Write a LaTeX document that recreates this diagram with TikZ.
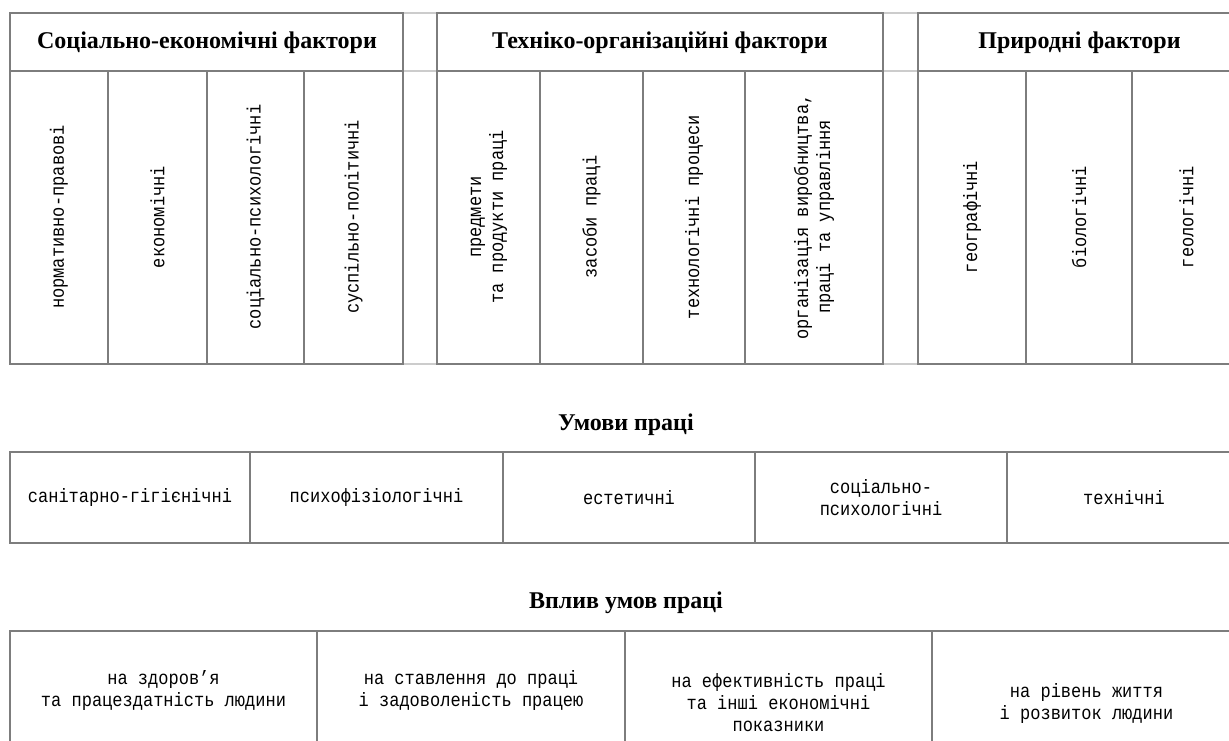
\documentclass[tikz,border=0pt]{standalone}
\usepackage{fontspec}
\setmainfont{Liberation Serif}
\newfontfamily\cellfont[FakeStretch=0.88]{Liberation Mono}
\usepackage{tikz}
\definecolor{framegray}{RGB}{125,125,125}

\begin{document}
\begin{tikzpicture}[x=0.75pt,y=-0.75pt,
    frame/.style={draw=framegray,line width=2pt},
    gapline/.style={draw=gray!40,line width=0.8pt},
    head/.style={font=\bfseries\fontsize{18}{20}\selectfont},
    cell/.style={font=\cellfont\fontsize{14.5}{16.5}\selectfont,align=center},
    vcell/.style={cell,rotate=90}]
  \useasboundingbox (0,0) rectangle (1229,740);
  \clip (0,0) rectangle (1229,740);

  % gaps between the factor groups
  \draw[gapline] (403,13)--(437,13) (403,71)--(437,71) (403,364)--(437,364);
  \draw[gapline] (883,13)--(918,13) (883,71)--(918,71) (883,364)--(918,364);

  % socio-economic factors
  \draw[frame] (10,13) rectangle (403,364);
  \draw[frame] (10,71)--(403,71);
  \draw[frame] (108,71)--(108,364);
  \draw[frame] (207,71)--(207,364);
  \draw[frame] (304,71)--(304,364);
  \node[head] (hA) at (207,43) {Соціально-економічні фактори};
  \node[vcell] (a1) at (59,217) {нормативно-правові};
  \node[vcell] (a2) at (157.5,217) {економічні};
  \node[vcell] (a3) at (255.5,217) {соціально-психологічні};
  \node[vcell] (a4) at (353.5,217) {суспільно-політичні};

  % technical and organisational factors
  \draw[frame] (437,13) rectangle (883,364);
  \draw[frame] (437,71)--(883,71);
  \draw[frame] (540,71)--(540,364);
  \draw[frame] (643,71)--(643,364);
  \draw[frame] (745,71)--(745,364);
  \node[head] (hB) at (660,43) {Техніко-організаційні фактори};
  \node[vcell] (b1) at (489,217) {предмети\\та продукти праці};
  \node[vcell] (b2) at (591.5,217) {засоби праці};
  \node[vcell] (b3) at (694,217) {технологічні процеси};
  \node[vcell] (b4) at (814,217) {організація виробництва,\\праці та управління};

  % natural factors
  \draw[frame] (918,13) rectangle (1241,364);
  \draw[frame] (918,71)--(1241,71);
  \draw[frame] (1026,71)--(1026,364);
  \draw[frame] (1132,71)--(1132,364);
  \node[head] (hC) at (1079.5,43) {Природні фактори};
  \node[vcell] (c1) at (972,217) {географічні};
  \node[vcell] (c2) at (1079,217) {біологічні};
  \node[vcell] (c3) at (1186.5,217) {геологічні};

  % working conditions
  \node[head] (tU) at (626,425) {Умови праці};
  \draw[frame] (10,452) rectangle (1241,543);
  \draw[frame] (250,452)--(250,543);
  \draw[frame] (503,452)--(503,543);
  \draw[frame] (755,452)--(755,543);
  \draw[frame] (1007,452)--(1007,543);
  \node[cell] (u1) at (130,497.5) {санітарно-гігієнічні};
  \node[cell] (u2) at (376.5,497.5) {психофізіологічні};
  \node[cell] (u3) at (629,497.5) {естетичні};
  \node[cell] (u4) at (881,497.5) {соціально-\\психологічні};
  \node[cell] (u5) at (1124,497.5) {технічні};

  % influence of working conditions
  \node[head] (tV) at (626,603) {Вплив умов праці};
  \draw[frame] (10,631) rectangle (1241,775);
  \draw[frame] (317,631)--(317,775);
  \draw[frame] (625,631)--(625,775);
  \draw[frame] (932,631)--(932,775);
  \node[cell] (v1) at (163.5,690) {на здоров’я\\та працездатність людини};
  \node[cell] (v2) at (471,690) {на ставлення до праці\\і задоволеність працею};
  \node[cell] (v3) at (778.5,703) {на ефективність праці\\та інші економічні\\показники};
  \node[cell] (v4) at (1086.5,703) {на рівень життя\\і розвиток людини};
\end{tikzpicture}
\end{document}
